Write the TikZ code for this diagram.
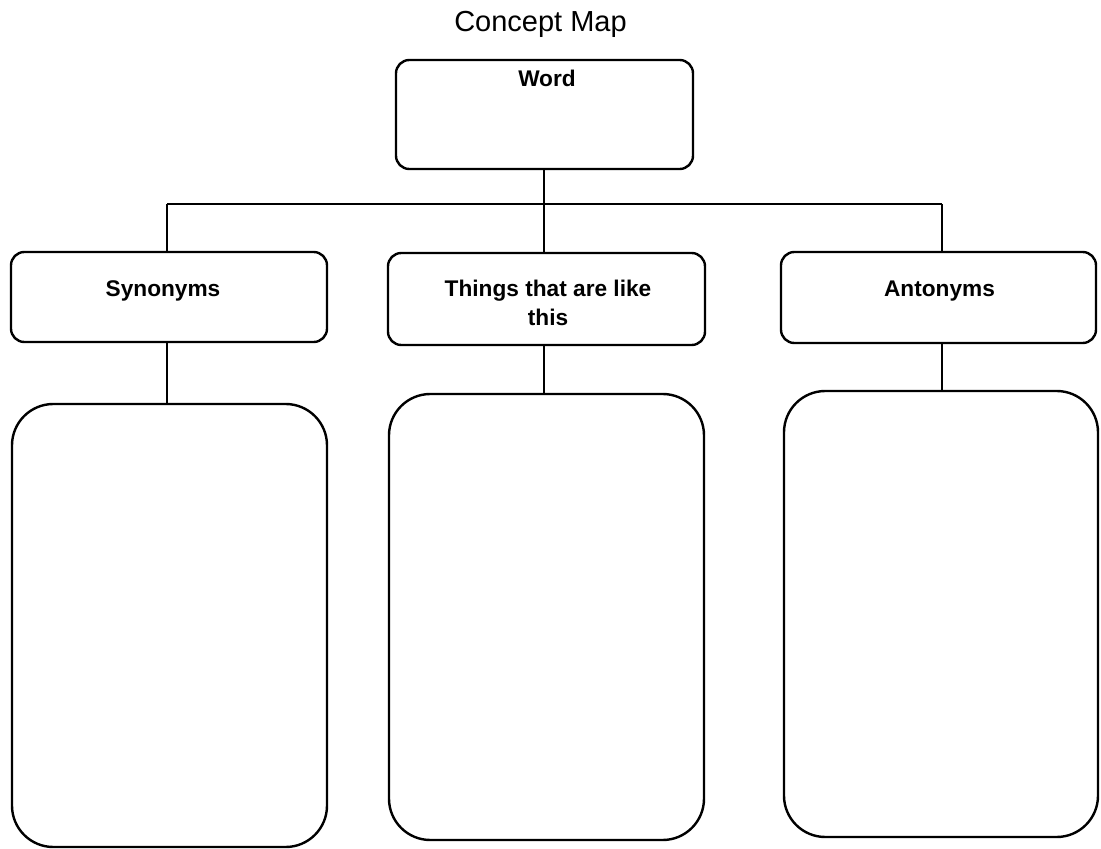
\documentclass[tikz,border=0pt]{standalone}
\usepackage{fontspec}
\setmainfont{Liberation Sans}
\begin{document}
\begin{tikzpicture}[x=0.75pt,y=-0.75pt,
  line width=1.8pt,
  headbox/.style={draw=black,fill=white,rounded corners=10pt,inner sep=0pt},
  bigbox/.style={draw=black,fill=white,rounded corners=31pt,inner sep=0pt},
  boxlabel/.style={font=\fontsize{17pt}{21.75pt}\selectfont\bfseries,anchor=base,inner sep=0pt,align=center}]
\useasboundingbox[fill=white] (0,0) rectangle (1101,849);

% title
\node[anchor=base,inner sep=0pt,font=\fontsize{21.75pt}{26pt}\selectfont] (title) at (540.5,32) {Concept Map};

% boxes
\node[headbox,minimum width=297*0.75pt,minimum height=109*0.75pt] (word) at (544.5,114.5) {};
\node[headbox,minimum width=316*0.75pt,minimum height=90*0.75pt] (syn) at (169,297) {};
\node[headbox,minimum width=317*0.75pt,minimum height=92*0.75pt] (like) at (546.5,299) {};
\node[headbox,minimum width=315*0.75pt,minimum height=91*0.75pt] (ant) at (938.5,297.5) {};
\node[bigbox,minimum width=315*0.75pt,minimum height=443*0.75pt] (synlist) at (169.5,625.5) {};
\node[bigbox,minimum width=315*0.75pt,minimum height=446*0.75pt] (likelist) at (546.5,617) {};
\node[bigbox,minimum width=314*0.75pt,minimum height=446*0.75pt] (antlist) at (941,614) {};

% labels (a two-line label sits on the baseline of its last line)
\node[boxlabel] (wordtext) at (547,87) {Word};
\node[boxlabel] (syntext) at (163,296) {Synonyms};
\node[boxlabel] (liketext) at (548,325) {Things that are like\\this};
\node[boxlabel] (anttext) at (939.5,296) {Antonyms};

% connectors
\coordinate (barL) at (167,204);
\coordinate (barM) at (544,204);
\coordinate (barR) at (942,204);
\draw (word.south -| barM) -- (barM);
\draw (barL) -- (barR);
\draw (barL) -- (barL |- syn.north);
\draw (barM) -- (barM |- like.north);
\draw (barR) -- (barR |- ant.north);
\draw (barL |- syn.south) -- (barL |- synlist.north);
\draw (barM |- like.south) -- (barM |- likelist.north);
\draw (barR |- ant.south) -- (barR |- antlist.north);
\end{tikzpicture}
\end{document}
